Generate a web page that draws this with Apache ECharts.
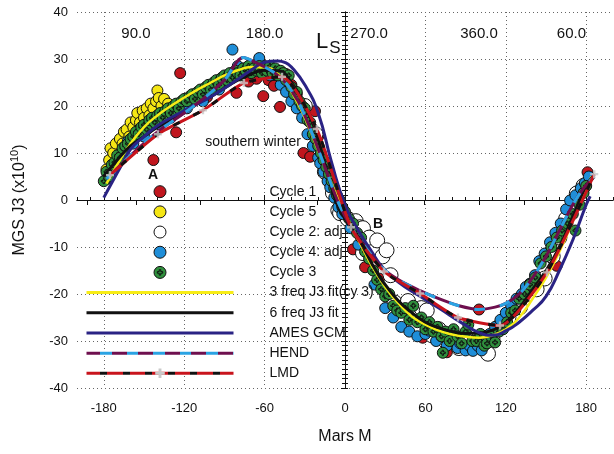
<!DOCTYPE html>
<html><head><meta charset="utf-8">
<script src="https://cdn.jsdelivr.net/npm/echarts@6/dist/echarts.min.js"></script>
<style>html,body{margin:0;padding:0;background:#fff}#c{width:614px;height:454px}</style>
</head><body><div id="c"></div>
<script>
// ---------------- data ----------------
const xTicks = [-180, -120, -60, 0, 60, 120, 180];
const lsLabels = ['90.0', '180.0', '270.0', '360.0', '60.0'];
const lsLabelPos = [-156, -60, 18, 100, 169];
const lsTickPos = [-192.5, -156, -108, -60, -21, 18, 59, 100, 134, 169];

const cycle1 = [[-143,8.5],[-126,14.4],[-123,27],[-103,21.9],[-95,23.8],[-81,22.8],[-72,25.2],[-66,25.8],[-61,22.1],[-57,25.5],[-53,24.3],[-48.5,19.8],[-44,26.8],[-40,24.5],[-36,22.5],[-31,10],[-26,9.2],[-22.4,18.9],[-20,13.5],[6,-10.5],[15,-14.3],[25.4,-16.7],[58,-29.3],[76,-32.4],[100,-23.3],[158,-14],[181,5.9]];

const cycle5 = [[-178,6.5],[-176,8.5],[-175,11],[-173,10],[-171,12],[-169,9.5],[-168,13],[-166,12],[-165,14.5],[-163,15],[-161,13.5],[-160,16.5],[-158,15.5],[-156,17],[-155,18.5],[-153,16.5],[-151,19],[-150,17.5],[-148,19.5],[-146,18],[-145,20.5],[-143,19.5],[-141,21],[-140,23.3],[-139,21.7],[-137,20],[-135,21.5],[-132,20.5]];

const cycle2 = [[-30,20],[-22,14],[-15,6],[-9,1.5],[-5,-2.2],[-3.7,-2.8],[2,-4],[8,-4.5],[11,-5.8],[13.4,-6],[13.4,-11.3],[18,-8],[24,-8.6],[28,-12],[31,-10.7],[34,-16],[37,-21.8],[42,-23],[47,-21.5],[52,-24.5],[57,-23],[61,-23.5],[65,-28.8],[70,-27.5],[75,-30],[80.6,-29.9],[85,-31.5],[90,-29],[95,-31],[100,-30],[106.7,-32.7],[110,-29.5],[115,-27],[122,-25],[130.6,-22.8],[136,-20],[143,-19],[149,-16.7],[155,-12],[160,-8],[165,-4],[170,-1],[173,1.4],[178,3]];

const cycle4 = [[-178,4.5],[-174,6],[-170,8],[-166,10],[-162,12.5],[-158,12],[-154,14.5],[-150,13.5],[-146,16],[-142,17],[-138,16],[-134,18],[-130,17.5],[-126,19],[-122,20.5],[-118,19.5],[-114,21],[-110,22],[-106,21],[-102,23],[-98,24],[-94,23.5],[-90,25],[-86,26.5],[-84,32],[-80,28.5],[-76,27],[-72,28.5],[-68,27.5],[-64,30.2],[-60,28.5],[-56,26.5],[-52,27.5],[-48,24.5],[-44,23],[-40,21],[-36,19.5],[-32,17.5],[-28,14],[-24,11.5],[-20,9],[-18.5,7.8],[-16,6],[-13,4],[-11,2.7],[-8,0.5],[-5,-1.5],[-2,-3],[4,-6],[10,-9.5],[22,-18],[30,-23],[36,-25],[42,-27],[48,-28],[54,-29],[60,-28.5],[63,-27.8],[68,-30],[72,-29],[76,-31],[80,-30],[84,-31.5],[86,-30.5],[90,-32],[93,-31],[95.5,-32.1],[99,-31],[102,-32],[105,-29.5],[108,-28.5],[112,-27],[116,-25.5],[120,-24],[124,-22.5],[128,-21],[132,-20],[135,-18.5],[138,-17.8],[141.8,-16],[145,-13],[149,-11.4],[153,-9],[157,-7],[161,-5],[165,-2],[168,-0.1],[172,1],[176,2.5],[179,3.6],[182,5]];

const cycle3 = [[-180,4],[-178,6],[-176,5],[-174,7.5],[-172,8],[-170,9.5],[-168,9],[-166,11],[-164,11.5],[-162,12],[-160,13],[-158,13.5],[-156,14.5],[-154,14],[-152,15.5],[-150,16],[-148,15],[-146,17],[-144,17.5],[-142,16.5],[-140,18],[-138,18.5],[-136,17.5],[-134,19],[-132,19.5],[-130,18.5],[-128,20],[-126,20.5],[-124,19.5],[-122,21],[-120,21.5],[-118,21],[-116,22],[-114,22.5],[-112,21.5],[-110,23],[-108,23.5],[-106,22.5],[-104,24],[-102,24.5],[-100,23.5],[-98,25],[-96,25.5],[-94,24.5],[-92,26],[-90,26.5],[-88,25.5],[-86,27],[-84,26],[-82,27.5],[-80,27],[-78,26.5],[-76,28],[-74,27.5],[-72,28.5],[-70,27],[-68,28],[-66,27.5],[-64,28.5],[-62,27],[-60,28],[-58,27.5],[-56,28.5],[-54,27],[-52,28],[-50,26.5],[-48,27.5],[-46,27],[-44,25.5],[-42,26.5],[-40,24],[-38,22.5],[-36,23],[-34,21],[-32,20],[-30,19.5],[-28,17],[-26,16.5],[-24,14],[-22,13],[-20,11.5],[-18,10],[-16,8.5],[-14,7],[-12,5.5],[-10,4],[-8,2.5],[-6,1],[-4,0],[-2,-1.5],[0,-2.5],[3,-4],[6,-5],[9,-7],[12,-8],[15,-11],[18,-12.5],[21,-15],[24,-17],[27,-19],[30,-20.5],[33,-20],[36,-22.5],[39,-23.5],[42,-24],[45,-23],[48,-25.5],[51,-22.5],[54,-26],[57,-25],[60,-27.5],[63,-26],[66,-28],[69,-27],[72,-29],[73,-32.5],[75,-28],[78,-30],[81,-27.5],[84,-29],[87,-30.5],[90,-28],[92,-26.5],[95,-30],[98,-30],[101,-28.5],[104,-31],[106,-30.5],[109,-29],[112,-30.3],[115,-28],[118,-27.5],[121,-26],[124,-24],[127,-23.5],[130,-21],[134,-20],[138,-18],[142,-16.5],[146,-13.5],[150,-12],[154,-10],[158,-8],[162,-6.5],[166,-5],[170,-3],[172,-6.5],[175,-1],[178,1.5],[180,3]];

const fit3 = [[-178,3.5],[-170,7.5],[-160,12],[-150,15.5],[-140,18],[-130,20],[-120,21.8],[-110,23.5],[-100,25],[-90,26.5],[-80,27.6],[-70,28.3],[-60,28.2],[-50,26.8],[-40,23],[-30,17.5],[-20,10.5],[-10,3.5],[0,-3],[10,-8.5],[20,-14],[30,-18.5],[40,-22],[50,-24.8],[60,-26.5],[70,-27.8],[80,-28.6],[90,-29.1],[100,-29.3],[110,-28.8],[120,-27.5],[130,-25],[140,-21],[150,-16.5],[160,-11],[170,-4.5],[180,2.5],[184,5]];

const fit6 = [[-180,5],[-170,8.5],[-160,11.5],[-150,13.5],[-140,15.5],[-130,17],[-120,18.5],[-110,20.5],[-100,22],[-90,23.8],[-80,25.5],[-70,26.8],[-60,27.6],[-50,27.5],[-40,25],[-30,20],[-25,17],[-20,13],[-15,7.5],[-10,2.5],[-5,-1.5],[0,-4],[5,-6],[10,-8],[15,-10.8],[20,-13.5],[26,-16.4],[30,-18],[40,-21.5],[50,-24],[60,-26],[70,-27.2],[80,-28],[90,-28.4],[100,-28.3],[110,-27.7],[120,-26],[130,-23],[140,-19],[150,-15],[160,-10],[170,-3.5],[180,3],[185,5]];

const ames = [[-180,0.5],[-173,4.2],[-166,7.8],[-160,10.8],[-150,13.5],[-140,15.8],[-130,17.5],[-120,19],[-110,20.5],[-100,22],[-90,23.8],[-80,25.7],[-70,27.6],[-60,29.3],[-50,29.6],[-45,29.3],[-40,28.3],[-30,24.5],[-20,18.5],[-10,8],[0,-1],[10,-6.5],[20,-11],[28,-14.3],[40,-17.5],[56,-20.5],[70,-23],[88,-26.3],[100,-28.2],[110,-28.8],[121,-27.7],[130,-26],[140,-23.5],[150,-20.5],[160,-15],[170,-8.5],[180,-1],[183,0.8]];

const hend = [[-178,4.5],[-160,9.5],[-140,14.5],[-120,18.5],[-106,21.5],[-90,25.5],[-76,30.3],[-65,29],[-55,27.5],[-46,25.5],[-35,21],[-25,14.5],[-15,7],[-5,-0.5],[5,-6],[15,-10],[28,-14.5],[40,-17],[56,-19.3],[70,-21],[85,-22.5],[100,-23.3],[112,-22.8],[120,-22],[130,-20],[140,-16.5],[150,-12],[160,-6.5],[170,-1],[178,2.5],[186,5]];

const lmd = [[-175.4,5.3],[-139.6,14],[-106,19.1],[-75.4,24.9],[-47,26.2],[-21,15.1],[4.5,-5.8],[29.1,-15.2],[56,-19.9],[84.3,-25],[115.7,-26.7],[150.7,-15.4],[186,5.5]];

// ---------------- styles ----------------
const FONT = "'Liberation Sans', Arial, Helvetica, sans-serif";
const C = {
  red: '#c0161e', yellow: '#f5e614', white: '#ffffff', blue: '#1f8ed8', green: '#2f8f3d',
  fitY: '#f7ec16', fitK: '#111111', ames: '#2a2384', hendP: '#6e0f4e', hendB: '#2aa3e3',
  lmdR: '#c8141c', lmdK: '#111111', grey: '#c9c9c9'
};
const GREEN_SYM = 'path://M10,0 A10,10 0 1,1 -10,0 A10,10 0 1,1 10,0 Z M-1.3,-4.5 L1.3,-4.5 L1.3,-1.3 L4.5,-1.3 L4.5,1.3 L1.3,1.3 L1.3,4.5 L-1.3,4.5 L-1.3,1.3 L-4.5,1.3 L-4.5,-1.3 L-1.3,-1.3 Z';
const CROSS_SYM = 'path://M-1.2,-4 L1.2,-4 L1.2,-1.2 L4,-1.2 L4,1.2 L1.2,1.2 L1.2,4 L-1.2,4 L-1.2,1.2 L-4,1.2 L-4,-1.2 L-1.2,-1.2 Z';
const LEG_W = 147;

function stripes(c1, c2, a, b, total) {
  const stops = []; let p = 0; let on = true;
  while (p < total) {
    const end = Math.min(p + (on ? a : b), total);
    const c = on ? c1 : c2;
    stops.push({offset: p / total, color: c}, {offset: end / total, color: c});
    p = end; on = !on;
  }
  return new echarts.graphic.LinearGradient(0, 0, 1, 0, stops);
}
const dotted = {show: true, lineStyle: {color: '#666', width: 1, type: [1, 3]}};
const noLineItem = {color: 'rgba(0,0,0,0)', borderColor: 'rgba(0,0,0,0)'};

function scatter(name, data, color, size, extra) {
  return Object.assign({
    type: 'scatter', name, data, symbolSize: size, xAxisIndex: 0, yAxisIndex: 0, z: 2,
    itemStyle: {color, borderColor: '#111', borderWidth: 1, opacity: 1}
  }, extra || {});
}
function line(name, data, color, extra) {
  return Object.assign({
    type: 'line', name, data, xAxisIndex: 0, yAxisIndex: 0, z: 3, symbol: 'none', smooth: true,
    lineStyle: {color, width: 3}, itemStyle: {color}
  }, extra || {});
}

const chart = echarts.init(document.getElementById('c'), null, {renderer: 'canvas'});
chart.setOption({
  animation: false,
  backgroundColor: '#fff',
  textStyle: {fontFamily: FONT},
  grid: {left: 77, top: 12, width: 536, height: 376, containLabel: false},
  xAxis: [
    {type: 'value', position: 'bottom', min: -200, max: 200, interval: 20,
     name: 'Mars M', nameLocation: 'middle', nameGap: 41,
     nameTextStyle: {fontSize: 16, color: '#111', fontFamily: FONT},
     axisLine: {show: true, lineStyle: {color: '#111', width: 1}},
     axisTick: {show: true, inside: true, length: 5, customValues: xTicks, lineStyle: {color: '#111'}},
     axisLabel: {show: true, customValues: xTicks, fontSize: 13, color: '#111', margin: 14, fontFamily: FONT},
     splitLine: dotted},
    {type: 'value', position: 'top', min: -200, max: 200, interval: 20,
     axisLine: {show: true, lineStyle: {color: '#111', width: 1}},
     axisTick: {show: true, inside: true, length: 5, customValues: lsTickPos, lineStyle: {color: '#111'}},
     axisLabel: {show: true, inside: true, margin: 14, customValues: lsLabelPos, fontSize: 15, color: '#111', fontFamily: FONT,
       formatter: v => { const i = lsLabelPos.indexOf(v); return i >= 0 ? lsLabels[i] : ''; }},
     splitLine: {show: false}},
    {type: 'value', position: 'bottom', min: -200, max: 200, interval: 10,
     axisLine: {show: false}, axisLabel: {show: false}, splitLine: {show: false},
     axisTick: {show: true, inside: true, length: 3, lineStyle: {color: '#111'}}}
  ],
  yAxis: [
    {type: 'value', position: 'left', min: -40, max: 40, interval: 10,
     name: 'MGS J3 (x10{sup|10})', nameLocation: 'middle', nameGap: 47, nameRotate: 90,
     nameTextStyle: {fontSize: 16, color: '#111', fontFamily: FONT,
       rich: {sup: {fontSize: 11, fontFamily: FONT, color: '#111', padding: [0, 0, 10, 0]}}},
     axisLine: {show: true, lineStyle: {color: '#111', width: 1}},
     axisTick: {show: true, inside: false, length: 4, lineStyle: {color: '#111'}},
     axisLabel: {fontSize: 13, color: '#111', margin: 9, fontFamily: FONT},
     splitLine: dotted},
    {type: 'value', position: 'left', min: -40, max: 40, interval: 1,
     axisLine: {show: false}, axisLabel: {show: false}, splitLine: {show: false},
     axisTick: {show: true, inside: true, length: 3, lineStyle: {color: '#111'}}},
    {type: 'value', position: 'right', min: -40, max: 40, interval: 1,
     axisLine: {show: true, lineStyle: {color: '#111', width: 1}}, axisLabel: {show: false}, splitLine: {show: false},
     axisTick: {show: true, inside: true, length: 3, lineStyle: {color: '#111'}}}
  ],
  legend: {
    orient: 'vertical', left: 85, top: 184.7, padding: 0,
    itemWidth: LEG_W, itemHeight: 12, itemGap: 6.18, selectedMode: false,
    textStyle: {fontSize: 14, color: '#111', fontFamily: FONT, padding: [0, 0, 0, 31]},
    itemStyle: {borderWidth: 1, borderColor: '#111'},
    lineStyle: {width: 3},
    data: [
      {name: 'Cycle 1'}, {name: 'Cycle 5'}, {name: 'Cycle 2: adj'}, {name: 'Cycle 4: adj'}, {name: 'Cycle 3'},
      {name: '3 freq J3 fit(cy 3)', itemStyle: noLineItem},
      {name: '6 freq J3 fit', itemStyle: noLineItem},
      {name: 'AMES GCM', itemStyle: noLineItem},
      {name: 'HEND', itemStyle: noLineItem, lineStyle: {width: 3, color: stripes(C.hendP, C.hendB, 15, 11, LEG_W)}},
      {name: 'LMD', itemStyle: {color: C.grey, borderColor: C.grey, borderWidth: 0},
       lineStyle: {width: 3, color: stripes(C.lmdR, C.lmdK, 15, 7, LEG_W)}}
    ]
  },
  graphic: [
    {type: 'text', x: 253, y: 142, style: {text: 'southern winter', fill: '#111', fontSize: 14, fontFamily: FONT, align: 'center', verticalAlign: 'middle'}},
    {type: 'text', x: 153, y: 175, style: {text: 'A', fill: '#111', fontSize: 14, fontWeight: 'bold', fontFamily: FONT, align: 'center', verticalAlign: 'middle'}},
    {type: 'text', x: 378, y: 224, style: {text: 'B', fill: '#111', fontSize: 14, fontWeight: 'bold', fontFamily: FONT, align: 'center', verticalAlign: 'middle'}},
    {type: 'text', x: 316, y: 42, style: {text: '{a|L}{b|S}', fill: '#111', fontFamily: FONT, align: 'left', verticalAlign: 'middle',
      rich: {a: {fontSize: 22, fontFamily: FONT, fill: '#111'}, b: {fontSize: 17, fontFamily: FONT, fill: '#111', padding: [12, 0, 0, 1]}}}}
  ],
  series: [
    scatter('Cycle 1', cycle1, C.red, 11),
    scatter('Cycle 5', cycle5, C.yellow, 11),
    scatter('Cycle 2: adj', cycle2, C.white, 15),
    scatter('Cycle 4: adj', cycle4, C.blue, 11),
    scatter('Cycle 3', cycle3, C.green, 11, {symbol: GREEN_SYM}),
    line('3 freq J3 fit(cy 3)', fit3, C.fitY, {lineStyle: {color: C.fitY, width: 2.5}}),
    line('6 freq J3 fit', fit6, C.fitK),
    line('AMES GCM', ames, C.ames),
    line('HEND', hend, C.hendP, {smooth: 0.3}),
    line('HEND dash', hend, C.hendB, {smooth: 0.3, lineStyle: {color: C.hendB, width: 3, type: [11, 15]}}),
    line('LMD', lmd, C.lmdR, {smooth: 0.2, symbol: CROSS_SYM, showSymbol: false, itemStyle: {color: C.grey}}),
    line('LMD dash', lmd, C.lmdK, {smooth: 0.2, lineStyle: {color: C.lmdK, width: 3, type: [7, 15], dashOffset: -15}}),
    {type: 'scatter', name: 'LMD points', data: lmd, xAxisIndex: 0, yAxisIndex: 0, z: 4,
     symbol: CROSS_SYM, symbolSize: 8, itemStyle: {color: C.grey}}
  ]
});
</script></body></html>
